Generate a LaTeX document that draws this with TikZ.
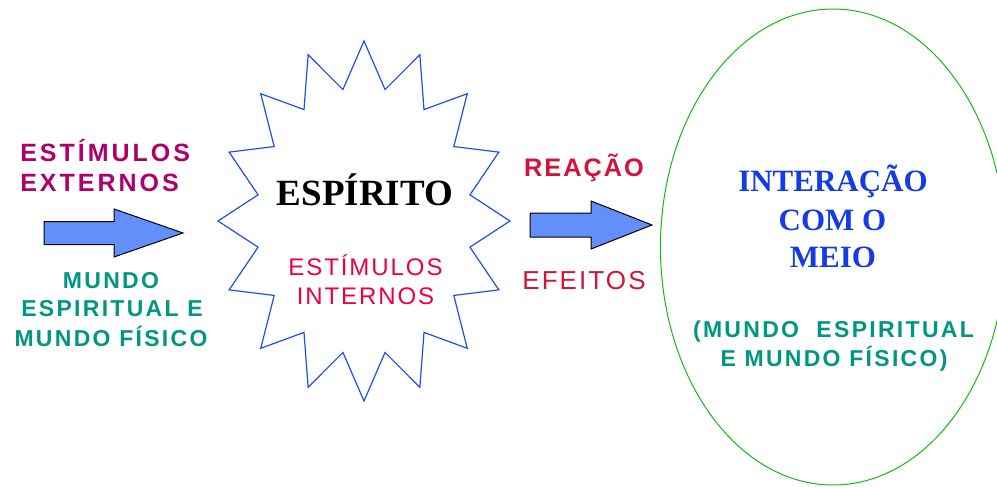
\documentclass[tikz,border=0pt]{standalone}
\usepackage{fontspec}
\setmainfont{Liberation Serif}
\newfontfamily\sansA[LetterSpace=12]{Liberation Sans}
\newfontfamily\sansB[LetterSpace=10]{Liberation Sans}
\newfontfamily\sansC[LetterSpace=8]{Liberation Sans}
\definecolor{extmag}{RGB}{175,0,105}
\definecolor{tealtxt}{RGB}{0,150,130}
\definecolor{intred}{RGB}{238,0,60}
\definecolor{reared}{RGB}{210,20,60}
\definecolor{bluetxt}{RGB}{20,60,230}
\definecolor{starblue}{RGB}{30,80,230}
\definecolor{ellgreen}{RGB}{20,185,20}
\definecolor{arrowfill}{RGB}{98,143,250}
\tikzset{
  txt/.style={inner sep=0pt, anchor=base},
  txtl/.style={inner sep=0pt, anchor=base west},
  starline/.style={draw=starblue, line width=0.9pt, line join=miter},
  blockarrow/.style={draw=black, fill=arrowfill, line width=0.75pt, line join=miter},
  ellline/.style={draw=ellgreen, line width=0.75pt},
  extfont/.style={font=\sansA\bfseries\fontsize{18.75pt}{22pt}\selectfont, text=extmag},
  mundofont/.style={font=\sansB\bfseries\fontsize{17.25pt}{21pt}\selectfont, text=tealtxt},
  espfont/.style={font=\rmfamily\bfseries\fontsize{27.75pt}{32pt}\selectfont, text=black},
  intfont/.style={font=\sansC\fontsize{18pt}{22pt}\selectfont, text=intred},
  reafont/.style={font=\sansC\bfseries\fontsize{19pt}{23pt}\selectfont, text=reared},
  efefont/.style={font=\sansC\fontsize{19.5pt}{23pt}\selectfont, text=reared},
  meiofont/.style={font=\rmfamily\bfseries\fontsize{23.25pt}{28pt}\selectfont, text=bluetxt},
}
\begin{document}
\begin{tikzpicture}[x=0.75pt,y=-0.75pt]
\useasboundingbox (0,0) rectangle (997,489);
\begin{scope}
\clip (0,0) rectangle (997,489);
% ellipse
\coordinate (ec) at (833,247);
\draw[ellline] (ec) ellipse [x radius=129.4pt, y radius=178.5pt];
\end{scope}
% star
\coordinate (sc) at (364,221);
\draw[starline] ([shift={(90:146 and 180)}]sc)
  \foreach \i [evaluate=\i as \ai using 101.25+22.5*\i, evaluate=\i as \ao using 112.5+22.5*\i] in {0,...,14}
  { -- ([shift={(\ai:108 and 134)}]sc) -- ([shift={(\ao:146 and 180)}]sc) }
  -- ([shift={(438.75:108 and 134)}]sc) -- cycle;
% left block arrow
\draw[blockarrow] (44,221.5) -- (114,221.5) -- (114,209) -- (183,233) -- (114,257) -- (114,244.5) -- (44,244.5) -- cycle;
% right block arrow
\draw[blockarrow] (530,213) -- (591,213) -- (591,201) -- (652,225) -- (591,249) -- (591,237) -- (530,237) -- cycle;
% texts
\node[txtl, extfont] (ext1) at (20,161.7) {ESTÍMULOS};
\node[txtl, extfont] (ext2) at (20,191) {EXTERNOS};
\node[txt, mundofont] (mw1) at (111,288.3) {MUNDO};
\node[txt, mundofont] (mw2) at (112,316.7) {ESPIRITUAL E};
\node[txt, mundofont] (mw3) at (111,346) {MUNDO FÍSICO};
\node[txt, espfont] (esp) at (365,205) {ESPÍRITO};
\node[txt, intfont] (int1) at (365.5,275) {ESTÍMULOS};
\node[txt, intfont] (int2) at (365.5,304) {INTERNOS};
\node[txt, reafont] (rea) at (584,176.7) {REAÇÃO};
\node[txt, efefont] (efe) at (584,289) {EFEITOS};
\node[txt, meiofont] (m1) at (833,191.7) {INTERAÇÃO};
\node[txt, meiofont] (m2) at (832.5,230) {COM O};
\node[txt, meiofont] (m3) at (833,267.3) {MEIO};
\node[txt, mundofont] (mr1) at (833.5,337.7) {(MUNDO\ \ ESPIRITUAL};
\node[txt, mundofont] (mr2) at (834,366.7) {E MUNDO FÍSICO)};
\end{tikzpicture}
\end{document}
